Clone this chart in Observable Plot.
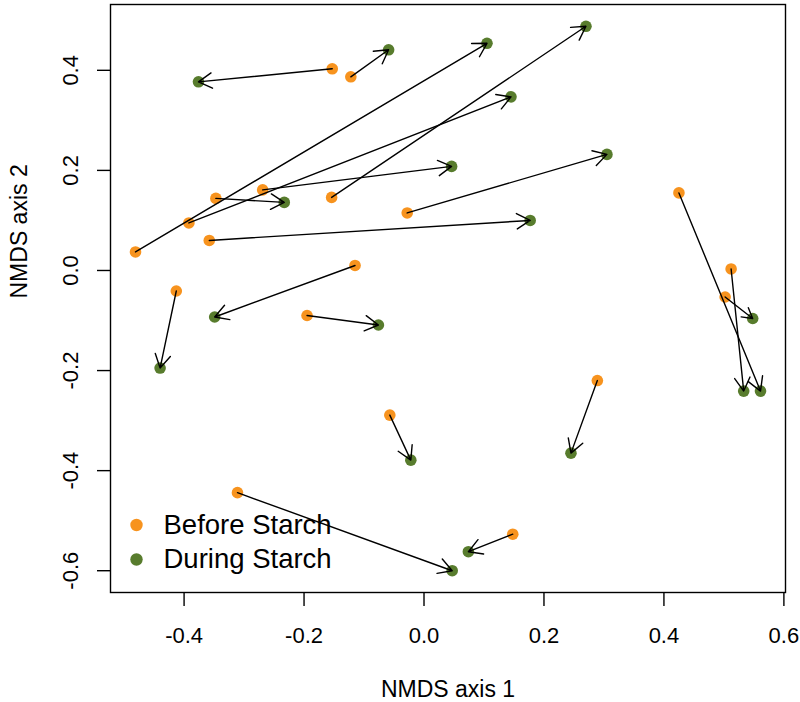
<!DOCTYPE html>
<html>
<head>
<meta charset="utf-8">
<script src="https://cdn.jsdelivr.net/npm/d3@7"></script>
<script src="https://cdn.jsdelivr.net/npm/@observablehq/plot@0.6"></script>
<style>
  html, body { margin: 0; padding: 0; background: #fff; }
</style>
</head>
<body>
<div id="chart"></div>
<script>
// Before Starch (start) and During Starch (end) NMDS coordinates, paired by index
const beforeX = [-0.153, -0.122, -0.481, -0.154, -0.392, -0.269, -0.347, -0.358, -0.028, -0.115, -0.413, -0.195, -0.057, 0.289, 0.148, -0.311, 0.425, 0.512, 0.502];
const beforeY = [0.403, 0.387, 0.037, 0.146, 0.095, 0.161, 0.144, 0.060, 0.115, 0.010, -0.041, -0.090, -0.289, -0.220, -0.527, -0.444, 0.155, 0.003, -0.053];
const duringX = [-0.376, -0.059, 0.105, 0.270, 0.145, 0.046, -0.233, 0.177, 0.305, -0.349, -0.440, -0.076, -0.022, 0.245, 0.074, 0.047, 0.561, 0.533, 0.548];
const duringY = [0.377, 0.441, 0.454, 0.488, 0.347, 0.208, 0.136, 0.100, 0.232, -0.093, -0.195, -0.109, -0.379, -0.365, -0.562, -0.600, -0.241, -0.241, -0.096];

const groups = ["Before Starch", "During Starch"];
const groupColors = ["#F7931E", "#587C2D"];
const xTicks = [-0.4, -0.2, 0.0, 0.2, 0.4, 0.6];
const yTicks = [-0.6, -0.4, -0.2, 0.0, 0.2, 0.4];
const xTitle = "NMDS axis 1";
const yTitle = "NMDS axis 2";

const pairs = beforeX.map((_, i) => ({x1: beforeX[i], y1: beforeY[i], x2: duringX[i], y2: duringY[i]}));
const points = [
  ...beforeX.map((x, i) => ({x, y: beforeY[i], g: groups[0]})),
  ...duringX.map((x, i) => ({x, y: duringY[i], g: groups[1]}))
];

// R-style 4% axis extension
function ext(vals) {
  const [a, b] = d3.extent(vals);
  const p = (b - a) * 0.04;
  return [a - p, b + p];
}
const xDom = ext([...beforeX, ...duringX]);
const yDom = ext([...beforeY, ...duringY]);
const fmt = d => d.toFixed(1);

function legendRow(i, dy) {
  return [
    Plot.dot([groups[i]], {frameAnchor: "bottom-left", dx: 26, dy, fill: groupColors[i], r: 6.2}),
    Plot.text([groups[i]], {text: d => d, frameAnchor: "bottom-left", dx: 53, dy, textAnchor: "start", lineAnchor: "middle", fontSize: 27.5, fill: "#000"})
  ];
}

const chart = Plot.plot({
  width: 800,
  height: 702,
  marginLeft: 110,
  marginRight: 15,
  marginTop: 4,
  marginBottom: 110,
  style: {fontFamily: "'Liberation Sans', Arial, Helvetica, sans-serif", fontSize: "22px", background: "#fff", color: "#000"},
  x: {domain: xDom, label: null},
  y: {domain: yDom, label: null},
  color: {domain: groups, range: groupColors},
  marks: [
    Plot.frame({stroke: "#000", strokeWidth: 1.4}),
    Plot.axisX({ticks: xTicks, tickFormat: fmt, tickSize: 14, tickPadding: 21, fontSize: 22, strokeWidth: 1.4, label: null}),
    Plot.axisY({ticks: yTicks, tickFormat: fmt, tickSize: 13, tickPadding: 20, tickRotate: -90, fontSize: 22, strokeWidth: 1.4, label: null}),
    Plot.text([xTitle], {text: d => d, frameAnchor: "bottom", dy: 97, lineAnchor: "middle", fontSize: 23}),
    Plot.text([yTitle], {text: d => d, frameAnchor: "left", dx: -91, rotate: -90, lineAnchor: "middle", fontSize: 23}),
    Plot.dot(points, {x: "x", y: "y", fill: "g", r: 5.8}),
    ...legendRow(0, -67.5),
    ...legendRow(1, -33),
    Plot.arrow(pairs, {x1: "x1", y1: "y1", x2: "x2", y2: "y2", stroke: "#000", strokeWidth: 1.4, headLength: 16.5, headAngle: 60})
  ]
});
document.getElementById("chart").append(chart);
</script>
</body>
</html>
